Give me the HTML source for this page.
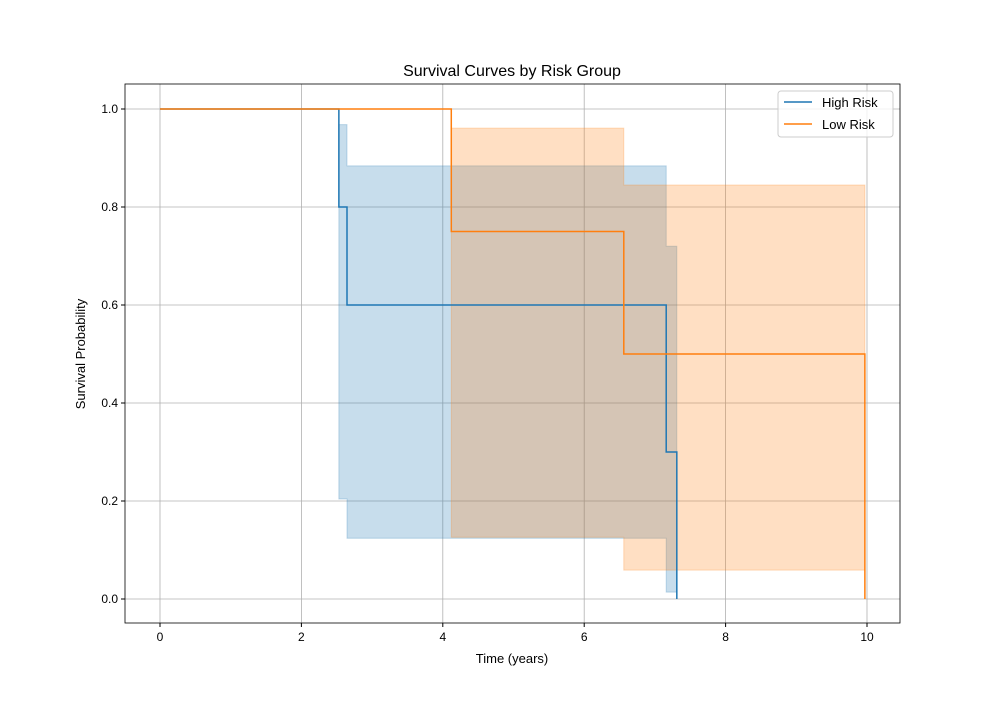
<!DOCTYPE html>
<html><head><meta charset="utf-8"><style>body{margin:0;background:#fff}svg{font-family:"Liberation Sans",sans-serif}</style></head>
<body>
<svg id="c" width="1000" height="700"></svg>
<script>
const highTimes=[0,2.53,2.645,7.16,7.31];
const highSurv=[1,0.8,0.6,0.3,0];
const highCIlo=[1,0.204,0.124,0.014];
const highCIhi=[1,0.968,0.884,0.72];
const lowTimes=[0,4.12,6.56,9.97];
const lowSurv=[1,0.75,0.5,0];
const lowCIlo=[1,0.126,0.059];
const lowCIhi=[1,0.961,0.845];
const xTicks=[0,2,4,6,8,10];
const yTicks=[0,0.2,0.4,0.6,0.8,1.0];
const L=125,R=900,T=84,B=623;
const X=v=>160+v*70.7, Y=v=>599-v*490;
const svg=document.getElementById('c');const NS='http://www.w3.org/2000/svg';
function mk(t,a,txt){const e=document.createElementNS(NS,t);for(const k in a)e.setAttribute(k,a[k]);if(txt!==undefined)e.textContent=txt;svg.appendChild(e);return e;}
// grid
xTicks.forEach(v=>{const g=mk('line',{x1:X(v),x2:X(v),y1:T,y2:B,stroke:'#b0b0b0','stroke-width':0.8});

mk('line',{x1:X(v),x2:X(v),y1:B,y2:B+4,stroke:'#000'});
const t=mk('text',{x:X(v),y:B+18,'text-anchor':'middle','font-size':12},String(v));
});
yTicks.forEach(v=>{const g=mk('line',{x1:L,x2:R,y1:Y(v),y2:Y(v),stroke:'#b0b0b0','stroke-width':0.8});

mk('line',{x1:L-4,x2:L,y1:Y(v),y2:Y(v),stroke:'#000'});
const t=mk('text',{x:L-7,y:Y(v)+4,'text-anchor':'end','font-size':12},v.toFixed(1));
});
function band(times,lo,hi,color,name){let top='',bot=[];for(let i=1;i<lo.length;i++){const a=X(times[i]),b=X(times[i+1]);top+=`${a},${Y(hi[i])} ${b},${Y(hi[i])} `;bot.unshift(`${b},${Y(lo[i])} ${a},${Y(lo[i])}`);}
const p=mk('polygon',{points:top+bot.join(' '),fill:color,'fill-opacity':0.25,stroke:color,'stroke-opacity':0.25});
}
band(highTimes,highCIlo,highCIhi,'#1f77b4','high-risk-ci');
band(lowTimes,lowCIlo,lowCIhi,'#ff7f0e','low-risk-ci');
function step(times,surv,color,name){let d=`M${X(times[0])},${Y(surv[0])}`;for(let i=1;i<times.length;i++){d+=` H${X(times[i])} V${Y(surv[i])}`;}
const p=mk('path',{d:d,fill:'none',stroke:color,'stroke-width':1.5});}
step(highTimes,highSurv,'#1f77b4','high-risk-line');
step(lowTimes,lowSurv,'#ff7f0e','low-risk-line');
const f=mk('rect',{x:L,y:T,width:R-L,height:B-T,fill:'none',stroke:'#000','stroke-width':0.8});

</script>
<svg style="position:absolute;left:0;top:0" width="1000" height="700">
<text x="512" y="76" text-anchor="middle" font-size="16">Survival Curves by Risk Group</text>
<text x="512" y="663" text-anchor="middle" font-size="13">Time (years)</text>
<text transform="translate(85,354) rotate(-90)" text-anchor="middle" font-size="13">Survival Probability</text>
<g>
<rect x="778" y="91" width="115" height="46" rx="3" fill="#fff" fill-opacity="0.8" stroke="#ccc"/>
<line x1="784" x2="812" y1="102" y2="102" stroke="#1f77b4" stroke-width="1.5"/>
<text x="822" y="107" font-size="13">High Risk</text>
<line x1="784" x2="812" y1="124" y2="124" stroke="#ff7f0e" stroke-width="1.5"/>
<text x="822" y="129" font-size="13">Low Risk</text>
</g>
</svg>
</body></html>
